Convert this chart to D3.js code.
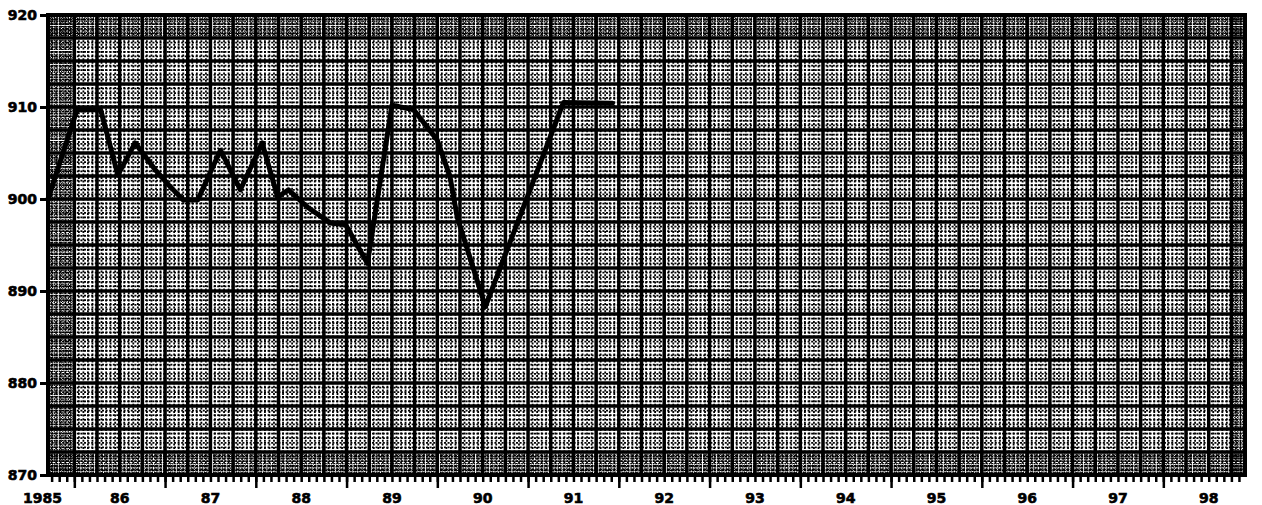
<!DOCTYPE html>
<html>
<head>
<meta charset="utf-8">
<script src="https://cdn.jsdelivr.net/npm/d3@7"></script>
<style>
  body { margin: 0; background: #fff; }
  text { font-family: "DejaVu Sans", sans-serif; font-weight: bold; fill: #000; }
</style>
</head>
<body>
<div id="chart"></div>
<script>
// time in decimal years
var times = [1985.71, 1986.03, 1986.29, 1986.48, 1986.67, 1986.89, 1987.06, 1987.20, 1987.36,
  1987.61, 1987.83, 1988.07, 1988.24, 1988.36, 1988.57, 1988.82, 1988.99, 1989.23, 1989.50,
  1989.74, 1990.00, 1990.14, 1990.22, 1990.53, 1991.39, 1991.93];
var values = [900.0, 909.7, 909.7, 902.6, 906.1, 903.2, 901.3, 899.9, 899.9,
  905.3, 901.0, 906.1, 900.2, 901.0, 899.1, 897.4, 897.2, 893.0, 910.2,
  909.7, 906.4, 902.4, 898.0, 888.3, 910.5, 910.4];
var yearTicks = [1986, 1987, 1988, 1989, 1990, 1991, 1992, 1993, 1994, 1995, 1996, 1997, 1998];
var yearLabels = ["1985", "86", "87", "88", "89", "90", "91", "92", "93", "94", "95", "96", "97", "98"];
var yTicks = [870, 880, 890, 900, 910, 920];
var xDomain = [1985.71, 1998.90];
var yDomain = [870, 920];

var margin = {top: 15, right: 17, bottom: 30, left: 48},
  width = 1262 - margin.left - margin.right,
  height = 505 - margin.top - margin.bottom;

var svg = d3.select("#chart")
  .append("svg")
  .attr("width", 1262)
  .attr("height", 505)
  .append("g")
  .attr("transform", "translate(" + margin.left + "," + margin.top + ")");

var x = d3.scaleLinear().domain(xDomain).range([0, width]);
var y = d3.scaleLinear().domain(yDomain).range([height, 0]);

// graph paper: fine lines every 1/20 year and 0.5 units, heavy every quarter and 2.5 units
svg.append("rect").attr("width", width).attr("height", height).style("fill", "#fff");

var fineX = d3.range(0, 300).map(function(i) { return 1985.70 + i * 0.05; })
  .filter(function(t) { return t > xDomain[0] && t < xDomain[1]; });
var fineY = d3.range(870.5, 920, 0.5);

var fine = svg.append("g");
fine.selectAll("line.fx").data(fineX).enter().append("line")
  .attr("x1", function(d) { return x(d); }).attr("x2", function(d) { return x(d); })
  .attr("y1", 0).attr("y2", height)
  .style("stroke", "#000").style("stroke-width", 1.8).style("stroke-dasharray", "2 1.6");
fine.selectAll("line.fy").data(fineY).enter().append("line")
  .attr("y1", function(d) { return y(d); }).attr("y2", function(d) { return y(d); })
  .attr("x1", 0).attr("x2", width)
  .style("stroke", "#000").style("stroke-width", 1.8).style("stroke-dasharray", "2 1.6");

// denser edge rows and columns
var strips = [
  [xDomain[0], 1986, 870, 920],
  [1998.75, xDomain[1], 870, 920],
  [xDomain[0], xDomain[1], 917.5, 920],
  [xDomain[0], xDomain[1], 870, 872.5]
];
strips.forEach(function(s) {
  var g = svg.append("g");
  var xs = d3.range(s[0], s[1], 0.025);
  var ys = d3.range(s[2], s[3], 0.25);
  g.selectAll("line.a").data(xs).enter().append("line")
    .attr("x1", function(d) { return x(d); }).attr("x2", function(d) { return x(d); })
    .attr("y1", y(s[3])).attr("y2", y(s[2]))
    .style("stroke", "#000").style("stroke-width", 1.1).style("stroke-dasharray", "1.4 1.4");
  g.selectAll("line.b").data(ys).enter().append("line")
    .attr("y1", function(d) { return y(d); }).attr("y2", function(d) { return y(d); })
    .attr("x1", x(s[0])).attr("x2", x(s[1]))
    .style("stroke", "#000").style("stroke-width", 1.1).style("stroke-dasharray", "1.4 1.4");
});

var heavyX = d3.range(1986, 1998.8, 0.25);
var heavyY = d3.range(872.5, 919, 2.5);
var heavy = svg.append("g");
heavy.selectAll("line.hx").data(heavyX).enter().append("line")
  .attr("x1", function(d) { return x(d); }).attr("x2", function(d) { return x(d); })
  .attr("y1", 0).attr("y2", height)
  .style("stroke", "#000").style("stroke-width", 3.5);
heavy.selectAll("line.hy").data(heavyY).enter().append("line")
  .attr("y1", function(d) { return y(d); }).attr("y2", function(d) { return y(d); })
  .attr("x1", 0).attr("x2", width)
  .style("stroke", "#000").style("stroke-width", 3.5);

svg.append("rect").attr("width", width).attr("height", height)
  .style("fill", "none").style("stroke", "#000").style("stroke-width", 4);

// data line
var pts = times.map(function(t, i) { return [t, values[i]]; });
var line = d3.line()
  .x(function(d) { return x(d[0]); })
  .y(function(d) { return y(d[1]); });
svg.append("path")
  .datum(pts)
  .attr("d", line)
  .style("fill", "none")
  .style("stroke", "#000")
  .style("stroke-width", 5)
  .style("stroke-linejoin", "round")
  .style("stroke-linecap", "round");

// x axis: monthly minor ticks, yearly major ticks
var months = d3.range(0, 200).map(function(i) { return 1985.75 + i / 12; })
  .filter(function(t) { return t <= xDomain[1]; });
var xMinor = svg.append("g")
  .attr("transform", "translate(0," + height + ")")
  .call(d3.axisBottom(x).tickValues(months).tickSize(7).tickFormat(""));
var xMajor = svg.append("g")
  .attr("transform", "translate(0," + height + ")")
  .call(d3.axisBottom(x).tickValues(yearTicks).tickSize(13).tickFormat(""));
[xMinor, xMajor].forEach(function(a) {
  a.select(".domain").remove();
  a.selectAll(".tick line").style("stroke", "#000").style("stroke-width", 2.5);
});

svg.append("g").selectAll("text")
  .data(yearLabels)
  .enter().append("text")
  .attr("x", function(d, i) { return x(Math.max(1985 + i + 0.5, xDomain[0] - 0.06)); })
  .attr("y", height + 28)
  .style("text-anchor", "middle")
  .style("font-size", "14px")
  .style("stroke", "#000").style("stroke-width", 0.6)
  .text(function(d) { return d; });

// y axis
var yAxis = svg.append("g")
  .call(d3.axisLeft(y).tickValues(yTicks).tickSize(8).tickPadding(3).tickFormat(d3.format("d")));
yAxis.select(".domain").remove();
yAxis.selectAll(".tick line").style("stroke", "#000").style("stroke-width", 3);
yAxis.selectAll(".tick text").style("font-size", "14px").style("font-family", "DejaVu Sans")
  .style("font-weight", "bold").style("fill", "#000")
  .style("stroke", "#000").style("stroke-width", 0.6);
</script>
</body>
</html>
